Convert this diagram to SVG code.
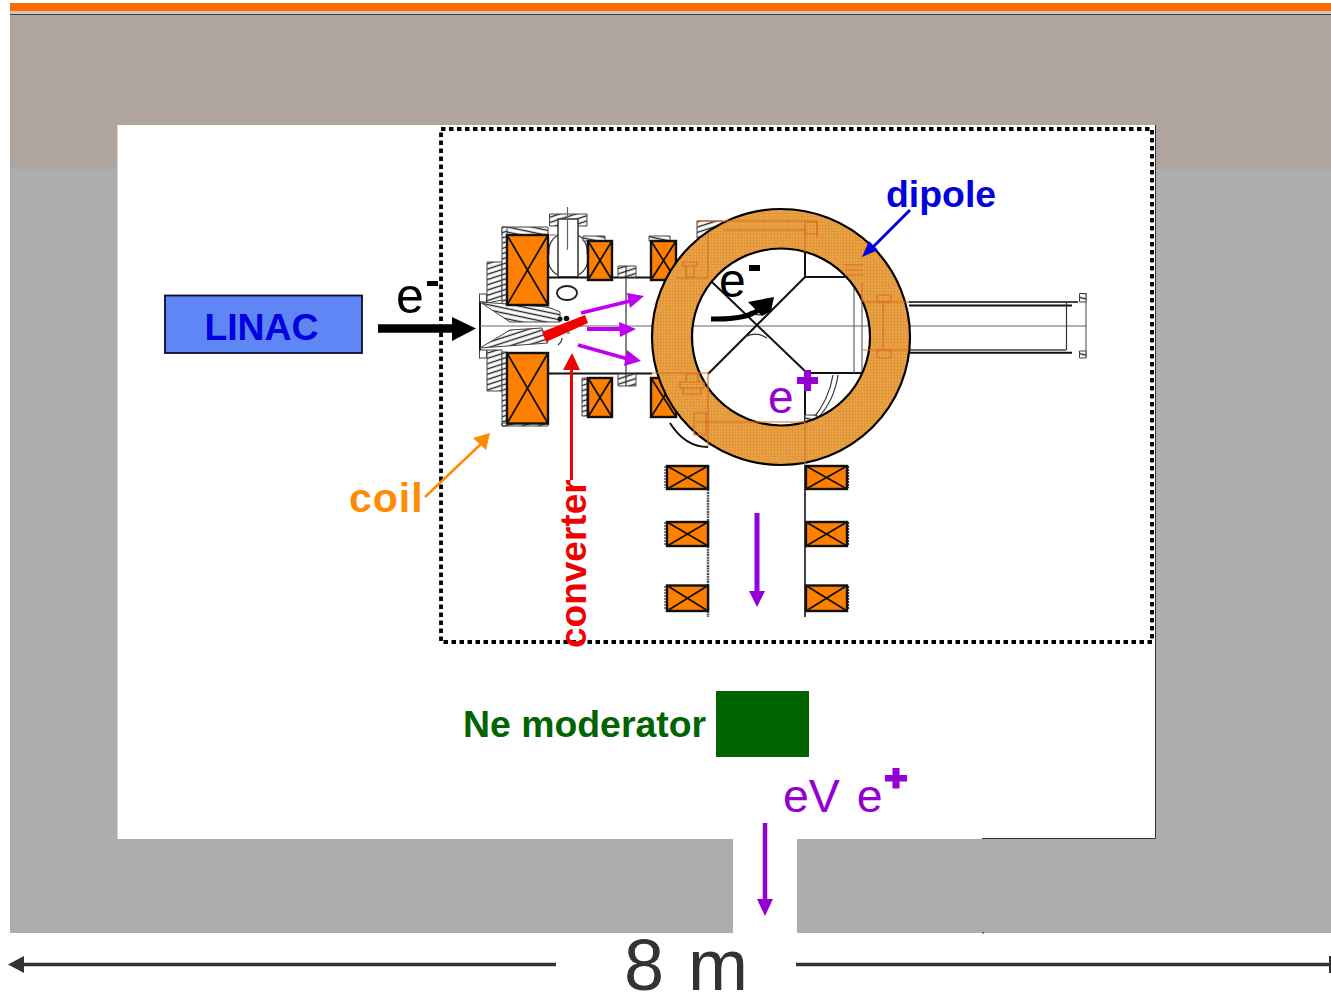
<svg xmlns="http://www.w3.org/2000/svg" width="1331" height="994" viewBox="0 0 1331 994">
<style>
.s{font-family:"Liberation Sans",Arial,sans-serif}
.b{font-weight:bold}
.coil{fill:#ff8000;stroke:#111;stroke-width:2.400}
.x{stroke:#111;stroke-width:1.800;fill:none}
.d{fill:none;stroke:#333;stroke-width:1.200}
.k{fill:none;stroke:#111;stroke-width:2}
.g{fill:none;stroke:#666;stroke-width:1.200}
.h{fill:url(#hatch);stroke:#444;stroke-width:1}
.h2{fill:url(#hatch2);stroke:#444;stroke-width:1}
.o{fill:none;stroke:#d9701f;stroke-width:1.200}
</style>
<defs>
<pattern id="hatch" width="5" height="5" patternUnits="userSpaceOnUse" patternTransform="rotate(12)"><rect width="5" height="5" fill="#fff"/><line x1="0" y1="1.500" x2="5" y2="1.500" stroke="#222" stroke-width="1.400"/></pattern>
<pattern id="hatch2" width="5" height="5" patternUnits="userSpaceOnUse" patternTransform="rotate(-18)"><rect width="5" height="5" fill="#fff"/><line x1="0" y1="1.500" x2="5" y2="1.500" stroke="#222" stroke-width="1.400"/></pattern>
<pattern id="grid" width="3" height="3" patternUnits="userSpaceOnUse"><rect width="3" height="3" fill="#eba445"/><path d="M0 .5H3M.5 0V3" stroke="#e2963a" stroke-width="1"/></pattern>
</defs>
<g id="background">
<rect x="0" y="0" width="1331" height="994" fill="#fff"/>
<rect x="10" y="14" width="1321" height="155" fill="#b0a49f"/>
<rect x="10" y="169" width="1321" height="764" fill="#adadad"/>
<rect x="10" y="3" width="1321" height="8" fill="#ff6a00"/>
<rect x="10" y="11" width="1321" height="3" fill="#c9c6c2"/>
<rect x="10" y="14" width="1321" height="1" fill="#3a3f48"/>
<rect x="117.500" y="125" width="1038.500" height="714" fill="#fff"/>
<rect x="733" y="839" width="64" height="94" fill="#fff"/>
<path d="M982 838.500H1155.500V125" fill="none" stroke="#333" stroke-width="1"/>
<path d="M983 932V934" stroke="#333" stroke-width="1"/>
</g>
<g id="frame"><rect x="441" y="129" width="711" height="513" fill="none" stroke="#000" stroke-width="3.800" stroke-dasharray="4.500 3.500"/></g>
<g id="drawing">
<path class="h2" d="M487 262H502V300L487 303z"/>
<path class="h2" d="M487 350H502V391H487z"/>
<path class="h" d="M502 227H548V235H502z"/>
<path class="h2" d="M502 227H507V305H502zM502 352H507V426H502zM502 423H548V426H502z"/>
<rect x="479.500" y="294" width="7" height="8" fill="#fff" stroke="#444"/>
<rect x="479.500" y="350" width="7" height="8" fill="#fff" stroke="#444"/>
<path class="k" d="M480 302V350" stroke-width="1.500"/>
<path class="h" d="M480 302L548 307L560 312V322H510z"/>
<path class="h2" d="M480 348L510 330L542 328L548 343z"/>
<path class="h2" d="M549.500 214H587V226H549.500z"/>
<path class="d" d="M549 253a18 18 0 0 1 9 -18M578 235a18 18 0 0 1 9 18M549 253a18 18 0 0 0 9 22M587 253a18 18 0 0 1 -9 22" stroke-width="1.800"/>
<rect x="558" y="219" width="20" height="58" fill="#fff" stroke="#333" stroke-width="1.500"/>
<path class="g" d="M567.500 207V250M550 235H556"/>
<path class="k" d="M548 277.500H652M548 373.500H652"/>
<ellipse cx="567" cy="293" rx="10" ry="7" fill="#fff" stroke="#222" stroke-width="1.800"/>
<path class="h" d="M583 236H605V241H583zM649 236H670V241H649z"/>
<path class="h2" d="M582 378H587V416H582z"/>
<path class="h2" d="M618 266H636V277H618zM618 374H636V386H618z"/>
<path class="d" d="M626 266V386"/>
<path class="h2" d="M697 221H722V238H697z"/>
<path class="g" d="M480 326H1086" stroke="#555"/>
<path d="M909 302H1078" fill="none" stroke="#444" stroke-width="2"/>
<path d="M909 350H1066" fill="none" stroke="#444" stroke-width="1.500"/>
<path class="k" d="M909 305.500H1072M909 352.700H1072"/>
<path class="d" d="M1066.500 302V350"/>
<path class="g" d="M1086 293V358"/>
<path class="h" d="M1079.500 293.500H1086V302H1079.500zM1079.500 351H1086V358H1079.500z"/>
<path d="M708 465V617" stroke="#555" stroke-width="2.500" stroke-dasharray="2 .7" fill="none"/>
<path d="M805 465V617" stroke="#444" stroke-width="2" fill="none"/>
<path class="d" d="M665 466V488M665 522V546M665 586V610M848.500 466V488M848.500 522V546M848.500 586V610" stroke="#555" stroke-dasharray="2 1"/>
<path class="k" d="M670 423Q685 447 708 447" stroke-width="1.500"/>
<path class="k" d="M712 282L807 373M708 374L805 277H845M805 252V277M807 373H862M805 373V423"/>
<path class="g" d="M854 277V373M862 277V373"/>
<path class="d" d="M750 311Q760 320 772 308M745 337Q756 331 767 338"/>
<path class="d" d="M838 375Q834 402 816 420M833 375Q829 400 812 420"/>
<path class="h" d="M805 415H817V422H805z"/>
<circle cx="560" cy="319" r="2.500" fill="#111"/><circle cx="566.500" cy="318.500" r="2.800" fill="#111"/>
<path class="d" d="M558 345Q562 342 562 338M567 333H570"/>
</g>
<g id="coils">
<g id="coil-1"><rect class="coil" x="507" y="235" width="41" height="70"/><path class="x" d="M507 235L548 305M548 235L507 305"/></g>
<g id="coil-2"><rect class="coil" x="507" y="353" width="41" height="70.500"/><path class="x" d="M507 353L548 423.500M548 353L507 423.500"/></g>
<g id="coil-3"><rect class="coil" x="588" y="241" width="24" height="39"/><path class="x" d="M588 241L612 280M612 241L588 280"/></g>
<g id="coil-4"><rect class="coil" x="588" y="378" width="24" height="39"/><path class="x" d="M588 378L612 417M612 378L588 417"/></g>
<g id="coil-5"><rect class="coil" x="651" y="241" width="25" height="39"/><path class="x" d="M651 241L676 280M676 241L651 280"/></g>
<g id="coil-6"><rect class="coil" x="651" y="378" width="25" height="39"/><path class="x" d="M651 378L676 417M676 378L651 417"/></g>
<g id="coil-7"><rect class="coil" x="667" y="466" width="41" height="23"/><path class="x" d="M667 466L708 489M708 466L667 489"/></g>
<g id="coil-8"><rect class="coil" x="806" y="466" width="41" height="23"/><path class="x" d="M806 466L847 489M847 466L806 489"/></g>
<g id="coil-9"><rect class="coil" x="667" y="522" width="41" height="24"/><path class="x" d="M667 522L708 546M708 522L667 546"/></g>
<g id="coil-10"><rect class="coil" x="806" y="522" width="41" height="24"/><path class="x" d="M806 522L847 546M847 522L806 546"/></g>
<g id="coil-11"><rect class="coil" x="667" y="585.500" width="41" height="25.500"/><path class="x" d="M667 585.500L708 611M708 585.500L667 611"/></g>
<g id="coil-12"><rect class="coil" x="806" y="585.500" width="41" height="25.500"/><path class="x" d="M806 585.500L847 611M847 585.500L806 611"/></g>
</g>
<g id="dipole">
<path fill="url(#grid)" stroke="#000" stroke-width="2.200" fill-rule="evenodd" d="M652 337a129 128 0 1 0 258 0a129 128 0 1 0 -258 0zM692 337a89 88.500 0 1 0 178 0a89 88.500 0 1 0 -178 0z"/>
<path class="o" d="M697 221H817V238M723 230H805V252M708 233V278H676M863 302H909M863 350H909M883 300V350M651 373H708V447M697 422H805V465"/>
<path class="o" d="M877 295H891V302H877zM877 350H891V358H877zM683 262h14v4h-14zM686 266h8v11h-8zM680 382h24v6h-24zM683 388h18v6h-18zM686 374h12v8h-12zM694 413h12v22h-12zM805 222h12v12h-12zM845 265H863M845 270H863M845 275H863M862 283V302"/>
</g>
<g id="connectors">
<path d="M378 328.500H456" stroke="#000" stroke-width="8.500" fill="none"/><path d="M452 317L476 328.500L452 341z" fill="#000"/>
<path d="M711 319Q750 320 762 307" stroke="#000" stroke-width="5" fill="none"/><path d="M748 302L774 297L771 311L762 316z" fill="#000"/>
<path d="M581 313L630 301" stroke="#bf00f0" stroke-width="3.800" fill="none"/><path d="M627 293L644 296L630 308z" fill="#bf00f0"/>
<path d="M587 329H622" stroke="#bf00f0" stroke-width="3.800" fill="none"/><path d="M619 322L636 329L620 337z" fill="#bf00f0"/>
<path d="M578 345L628 359" stroke="#bf00f0" stroke-width="3.800" fill="none"/><path d="M627 350L641 361L624 366z" fill="#bf00f0"/>
<path d="M571.500 480V366" stroke="#f00000" stroke-width="3" fill="none"/><path d="M563 370L572 353L580 370z" fill="#f00000"/>
<path d="M757 513V595" stroke="#9400d3" stroke-width="5" fill="none"/><path d="M749 591H765L757 607z" fill="#9400d3"/>
<path d="M765 823V903" stroke="#9400d3" stroke-width="4.500" fill="none"/><path d="M757 899H773L765 916z" fill="#9400d3"/>
<path d="M425 497L482 443" stroke="#ff8c00" stroke-width="2.500" fill="none"/><path d="M473 438L490 433L486 450z" fill="#ff8c00"/>
<path d="M910 210L871 249" stroke="#0000e0" stroke-width="3" fill="none"/><path d="M862 257L869 241L878 250z" fill="#0000e0"/>
<path d="M556 964.500H22" stroke="#333" stroke-width="3.500" fill="none"/><path d="M24 956L8 964.500L24 973z" fill="#333"/>
<path d="M796 964.500H1330" stroke="#333" stroke-width="3.500" fill="none"/><path d="M1330 956V973" stroke="#333" stroke-width="2"/>
</g>
<g id="converter-target"><path d="M542 332L585 315L588 323L546 342z" fill="#f00000"/></g>
<g id="linac"><rect x="165" y="295.500" width="197" height="57.500" fill="#5f86f5" stroke="#0a0a30" stroke-width="1.800"/><text class="s b" x="261.500" y="340" font-size="37.400" fill="#0000e0" text-anchor="middle">LINAC</text></g>
<g id="ne-moderator"><rect x="716" y="691" width="93" height="66" fill="#006400"/><text class="s b" x="463" y="737" font-size="37.400" fill="#006400">Ne moderator</text></g>
<g id="labels">
<text class="s" x="396" y="313" font-size="50" fill="#000">e</text><rect x="427" y="281" width="11" height="5" fill="#000"/>
<text class="s" x="719" y="297" font-size="48" fill="#000">e</text><rect x="749" y="265" width="11" height="6" fill="#000"/>
<text class="s" x="768" y="413" font-size="46" fill="#9400d3">e</text><path d="M804 370h7v7h7v7h-7v7h-7v-7h-7v-7h7z" fill="#9400d3"/>
<text class="s" x="783" y="812" font-size="46.500" fill="#9400d3" word-spacing="4">eV e</text><path d="M892.500 768h7v7h7.500v6.500h-7.500v7h-7v-7h-7.500v-6.500h7.500z" fill="#9400d3"/>
<text class="s b" x="886" y="207" font-size="37.400" fill="#0000e0">dipole</text>
<text class="s b" x="349" y="512" font-size="41" fill="#ff8c00" letter-spacing="1">coil</text>
<text class="s b" font-size="37" fill="#f00000" transform="translate(585.500 648) rotate(-90)">converter</text>
<text class="s" x="624" y="990" font-size="72" fill="#333" word-spacing="4">8 m</text>
</g>
</svg>
